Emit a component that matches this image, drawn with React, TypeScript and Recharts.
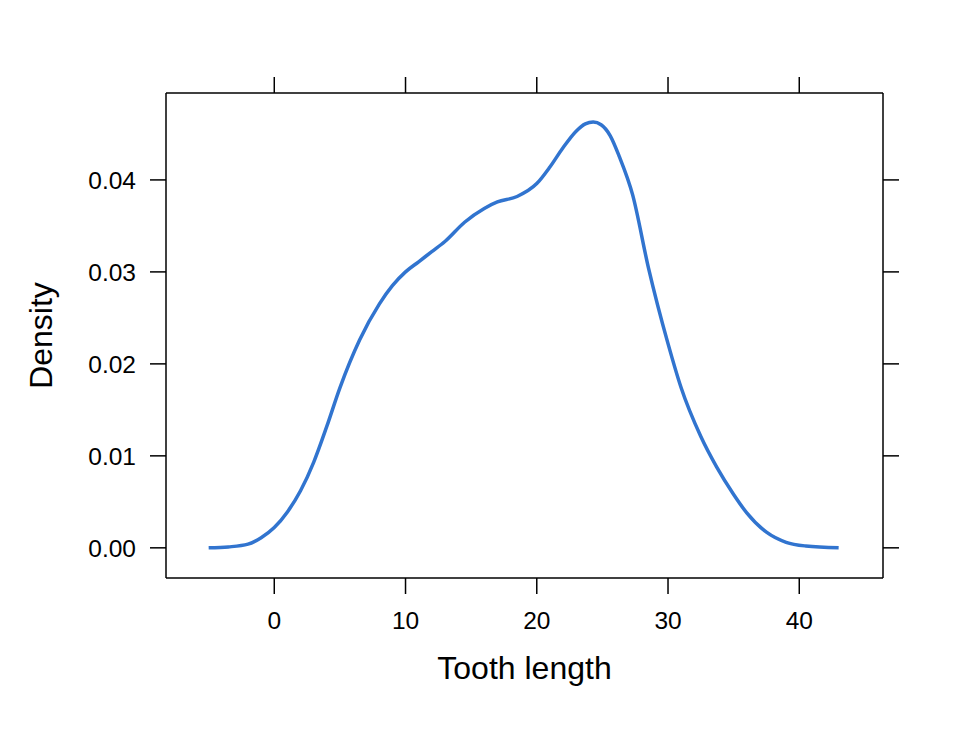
import { LineChart, Line, XAxis, YAxis } from "recharts";

// density of tooth length
const toothLength = [
  -5, -3.5, -2, -1, 0, 1, 2, 3, 4, 5, 6.5, 8, 9, 10, 11, 12, 13, 14.5, 16, 17,
  18.5, 20, 21, 22, 23, 23.7, 24.3, 24.9, 25.6, 26.3, 27.3, 28.5, 30, 31, 32.5,
  33.7, 35, 36, 37.5, 39, 40.5, 43,
];
const density = [
  0.0, 0.0001, 0.0004, 0.0011, 0.0022, 0.0039, 0.0062, 0.0093, 0.0132, 0.0174,
  0.0226, 0.0265, 0.0285, 0.03, 0.0311, 0.0322, 0.0333, 0.0354, 0.0369, 0.0376,
  0.0382, 0.0396, 0.0414, 0.0435, 0.0453, 0.0461, 0.0463, 0.046, 0.0448,
  0.0425, 0.0384, 0.0305, 0.0222, 0.0174, 0.0121, 0.0088, 0.0058, 0.0038,
  0.0017, 0.0006, 0.0002, 0.0,
];
const xTicks = [0, 10, 20, 30, 40];
const yTicks = [0, 0.01, 0.02, 0.03, 0.04];

const FONT = "'Liberation Sans', Arial, Helvetica, sans-serif";
const AXIS = { stroke: "#000", strokeWidth: 1.5 };

const data = toothLength.map((x, i) => ({ x, y: density[i] }));

export default function App() {
  const xDomain: [number, number] = [-8.25, 46.38];
  const yDomain: [number, number] = [-0.00328, 0.04945];

  return (
    <div style={{ position: "absolute", left: 0, top: 0, background: "#fff" }}>
      <LineChart
        width={960}
        height={729}
        data={data}
        margin={{ top: 92, right: 76, bottom: 0, left: 0 }}
        style={{ fontFamily: FONT }}
      >
        <XAxis
          xAxisId="bottom"
          dataKey="x"
          type="number"
          domain={xDomain}
          ticks={xTicks}
          allowDataOverflow
          height={151}
          axisLine={AXIS}
          tickLine={AXIS}
          tickSize={16}
          tickMargin={18}
          tick={{ fill: "#000", fontSize: 24.5, fontFamily: FONT }}
          label={{
            content: ({ viewBox }: any) => (
              <text
                x={viewBox.x + viewBox.width / 2}
                y={679}
                textAnchor="middle"
                fontSize={32}
                fontFamily={FONT}
                fill="#000"
              >
                Tooth length
              </text>
            ),
          }}
        />
        <XAxis
          xAxisId="top"
          orientation="top"
          dataKey="x"
          type="number"
          domain={xDomain}
          ticks={xTicks}
          allowDataOverflow
          height={1}
          axisLine={AXIS}
          tickLine={AXIS}
          tickSize={16}
          tick={() => <g />}
        />
        <YAxis
          yAxisId="left"
          type="number"
          domain={yDomain}
          ticks={yTicks}
          allowDataOverflow
          width={166}
          axisLine={AXIS}
          tickLine={AXIS}
          tickSize={16}
          tickMargin={14}
          tickFormatter={(v: number) => v.toFixed(2)}
          tick={{ fill: "#000", fontSize: 24.5, fontFamily: FONT }}
          label={{
            content: ({ viewBox }: any) => {
              const cy = viewBox.y + viewBox.height / 2;
              return (
                <text
                  x={52}
                  y={cy}
                  transform={`rotate(-90, 52, ${cy})`}
                  textAnchor="middle"
                  fontSize={32}
                  fontFamily={FONT}
                  fill="#000"
                >
                  Density
                </text>
              );
            },
          }}
        />
        <YAxis
          yAxisId="right"
          orientation="right"
          type="number"
          domain={yDomain}
          ticks={yTicks}
          allowDataOverflow
          width={1}
          axisLine={AXIS}
          tickLine={AXIS}
          tickSize={16}
          tick={() => <g />}
        />
        <Line
          xAxisId="bottom"
          yAxisId="left"
          type="monotone"
          dataKey="y"
          stroke="#3174cf"
          strokeWidth={3.5}
          dot={false}
          activeDot={false}
          isAnimationActive={false}
        />
      </LineChart>
    </div>
  );
}
